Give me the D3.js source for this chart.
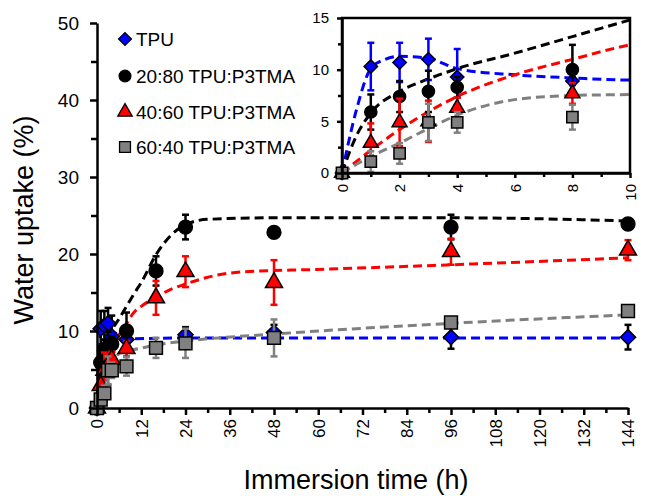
<!DOCTYPE html>
<html>
<head>
<meta charset="utf-8">
<script src="https://cdn.jsdelivr.net/npm/d3@7"></script>
<style>
  body { margin: 0; background: #fff; }
  svg { display: block; font-family: Arial, "Liberation Sans", sans-serif; }
</style>
</head>
<body>
<div id="chart"></div>
<script>
// measured points (hours, water uptake %)
var times = [0, 1, 2, 3, 4, 8, 16, 24, 48, 96, 144];

var tpu      = [0, 10.3, 10.7, 11.0, 9.3, 8.9, null, 9.5, 9.8, 9.2, 9.2];
var tpuErr   = [0, 2.3, 1.9, 2.0, 2.7, 0.4, null, 1.0, 1.0, 1.5, 1.6];
var p2080    = [0, 5.9, 7.4, 7.9, 8.3, 10.0, 17.8, 23.5, 22.8, 23.5, 23.9];
var p2080Err = [0, 1.7, 1.5, 2.0, 1.0, 2.4, 1.9, 1.6, 0, 1.6, 0.4];
var p4060    = [0, 2.9, 4.9, 5.0, 6.3, 7.7, 14.3, 17.7, 16.3, 20.3, 20.5];
var p4060Err = [0, 1.9, 2.3, 2.0, 1.0, 1.0, 2.2, 2.0, 2.9, 1.7, 1.3];
var p6040    = [0, 1.1, 1.9, 4.9, 4.9, 5.4, 7.8, 8.4, 9.1, 11.1, 12.6];
var p6040Err = [0, 1.0, 1.0, 1.8, 1.0, 1.2, 1.3, 1.9, 2.4, 0.4, 0.4];

// fitted curves as [hours, %]
var tpuFit = [[0,0],[0.5,6.1],[1,10.1],[1.5,11.0],[2,11.3],[3,11.1],[4,10.1],[6,9.5],[8,9.2],[10,9.0],[24,9.1],[48,9.1],[96,9.1],[144,9.1]];
var p2080Fit = [[0,0],[0.5,3.6],[1,5.8],[2,7.9],[3,9.1],[4,10.1],[6,11.6],[8,13.2],[10,14.8],[12,16.3],[16,19.9],[20,22.4],[24,23.8],[30,24.5],[48,24.7],[96,24.7],[144,24.3]];
var p4060Fit = [[0,0],[1,2.2],[2,4.2],[4,7.4],[6,9.5],[8,11.0],[10,12.4],[12,13.2],[16,14.4],[20,15.4],[24,16.1],[32,17.2],[40,17.7],[60,18.0],[96,18.6],[144,19.5]];
var p6040Fit = [[0,0],[1,1.6],[2,2.9],[3,4.3],[4,5.6],[6,7.1],[8,7.5],[10,7.6],[16,8.2],[24,8.7],[48,9.6],[96,11.0],[144,12.1]];

var seriesNames = ["TPU", "20:80 TPU:P3TMA", "40:60 TPU:P3TMA", "60:40 TPU:P3TMA"];
var mainXTicks = [0, 12, 24, 36, 48, 60, 72, 84, 96, 108, 120, 132, 144];
var mainYTicks = [0, 10, 20, 30, 40, 50];
var insetXTicks = [0, 2, 4, 6, 8, 10];
var insetYTicks = [0, 5, 10, 15];

var width = 646;
var height = 496;

var series = [
  { name: seriesNames[0], vals: tpu,   err: tpuErr,   fit: tpuFit,   color: "#0000ff", shape: "diamond" },
  { name: seriesNames[1], vals: p2080, err: p2080Err, fit: p2080Fit, color: "#000000", shape: "circle" },
  { name: seriesNames[2], vals: p4060, err: p4060Err, fit: p4060Fit, color: "#ff0000", shape: "triangle" },
  { name: seriesNames[3], vals: p6040, err: p6040Err, fit: p6040Fit, color: "#808080", shape: "square" }
];

var svg = d3.select("#chart")
            .append("svg")
            .attr("width", width)
            .attr("height", height);

svg.append("rect").attr("width", width).attr("height", height).attr("fill", "#fff");

function symbolPath(shape, k) {
  if (shape == "circle") return d3.symbol().type(d3.symbolCircle).size(150 * k * k)();
  if (shape == "triangle") return d3.symbol().type(d3.symbolTriangle).size(125 * k * k)();
  if (shape == "square") return d3.symbol().type(d3.symbolSquare).size(165 * k * k)();
  return d3.symbol().type(d3.symbolSquare).size(115 * k * k)();
}

function fillOf(s) { return s.shape == "circle" ? "#000" : s.color; }

function points(s, maxT) {
  var out = [];
  times.forEach(function(t, i) {
    if (s.vals[i] != null && t <= maxT) out.push({ t: t, v: s.vals[i], e: s.err[i] });
  });
  return out;
}

// draws fits, error bars and markers of all series into g
function drawPanel(g, x, y, maxT, k, lw, blueErrBlack) {
  var line = d3.line()
    .x(function(d) { return x(d[0]); })
    .y(function(d) { return y(d[1]); })
    .curve(d3.curveMonotoneX);

  series.forEach(function(s) {
    g.append("path")
      .attr("d", line(s.fit))
      .attr("fill", "none")
      .attr("stroke", s.color)
      .attr("stroke-width", lw)
      .attr("stroke-dasharray", "9,5");
  });

  series.forEach(function(s) {
    var pts = points(s, maxT);
    var ec = (blueErrBlack && s.shape == "diamond") ? "#000" : s.color;
    var eb = g.append("g").attr("stroke", ec).attr("stroke-width", 2.5);
    pts.filter(function(d) { return d.e > 0; }).forEach(function(d) {
      var cx = x(d.t);
      eb.append("line").attr("x1", cx).attr("x2", cx).attr("y1", y(d.v - d.e)).attr("y2", y(d.v + d.e));
      eb.append("line").attr("x1", cx - 3.5).attr("x2", cx + 3.5).attr("y1", y(d.v + d.e)).attr("y2", y(d.v + d.e));
      eb.append("line").attr("x1", cx - 3.5).attr("x2", cx + 3.5).attr("y1", y(d.v - d.e)).attr("y2", y(d.v - d.e));
    });
    g.selectAll(null)
      .data(pts)
      .enter()
      .append("path")
      .attr("d", symbolPath(s.shape, k))
      .attr("transform", function(d) {
        return "translate(" + x(d.t) + "," + y(d.v) + ")" + (s.shape == "diamond" ? " rotate(45)" : "");
      })
      .attr("fill", fillOf(s))
      .attr("stroke", "#000")
      .attr("stroke-width", 1.5);
  });
}

function styleAxis(a) {
  a.selectAll(".domain").attr("stroke-width", 2.5);
  a.selectAll(".tick line").attr("stroke-width", 2.5);
}

// ---- main chart
var x = d3.scaleLinear().domain([0, 144]).range([97, 628]);
var y = d3.scaleLinear().domain([0, 50]).range([408, 23]);

var main = svg.append("g");
drawPanel(main, x, y, 144, 1, 3, true);

var xMinor = d3.range(6, 144, 12);
var yMinor = d3.range(5, 50, 10);

var xa = svg.append("g")
  .attr("transform", "translate(0," + y(0) + ")")
  .call(d3.axisBottom(x).tickValues(mainXTicks).tickSize(7).tickSizeOuter(0));
xa.selectAll("text")
  .attr("x", -11).attr("y", 0).attr("dy", "0.35em")
  .attr("transform", "rotate(-90)")
  .style("text-anchor", "end")
  .style("font-size", "17px").attr("fill", "#000");
styleAxis(xa);
var xm = svg.append("g")
  .attr("transform", "translate(0," + y(0) + ")")
  .call(d3.axisBottom(x).tickValues(xMinor).tickSize(5).tickFormat(""));
xm.select(".domain").remove();
styleAxis(xm);

var ya = svg.append("g")
  .attr("transform", "translate(" + x(0) + ",0)")
  .call(d3.axisLeft(y).tickValues(mainYTicks).tickSize(7).tickPadding(11).tickSizeOuter(0));
ya.selectAll("text").style("font-size", "19px").attr("fill", "#000");
styleAxis(ya);
var ym = svg.append("g")
  .attr("transform", "translate(" + x(0) + ",0)")
  .call(d3.axisLeft(y).tickValues(yMinor).tickSize(6).tickFormat(""));
ym.select(".domain").remove();
styleAxis(ym);

svg.append("text")
  .attr("x", 356).attr("y", 489)
  .attr("text-anchor", "middle")
  .style("font-size", "27px")
  .text("Immersion time (h)");

svg.append("text")
  .attr("transform", "translate(33,220) rotate(-90)")
  .attr("text-anchor", "middle")
  .style("font-size", "27px")
  .text("Water uptake (%)");

// ---- legend
var legend = svg.append("g");
var legendY = [39, 76, 112, 147];
series.forEach(function(s, i) {
  legend.append("path")
    .attr("d", symbolPath(s.shape, 0.85))
    .attr("transform", "translate(125," + legendY[i] + ")" + (s.shape == "diamond" ? " rotate(45)" : ""))
    .attr("fill", fillOf(s))
    .attr("stroke", "#000")
    .attr("stroke-width", 1.3);
  legend.append("text")
    .attr("x", 136).attr("y", legendY[i])
    .attr("dy", "0.35em")
    .style("font-size", "19px")
    .text(s.name);
});

// ---- inset
var ix = d3.scaleLinear().domain([0, 10]).range([342, 630]);
var iy = d3.scaleLinear().domain([0, 15]).range([173, 18]);

svg.append("rect")
  .attr("x", ix(0)).attr("y", iy(15))
  .attr("width", ix(10) - ix(0)).attr("height", iy(0) - iy(15))
  .attr("fill", "#fff");

svg.append("clipPath").attr("id", "insetClip")
  .append("rect")
  .attr("x", ix(0) - 10).attr("y", iy(15))
  .attr("width", ix(10) - ix(0) + 10).attr("height", iy(0) - iy(15) + 10);

var inset = svg.append("g").attr("clip-path", "url(#insetClip)");
drawPanel(inset, ix, iy, 10, 0.88, 3, false);

svg.append("rect")
  .attr("x", ix(0)).attr("y", iy(15))
  .attr("width", ix(10) - ix(0)).attr("height", iy(0) - iy(15))
  .attr("fill", "none")
  .attr("stroke", "#000")
  .attr("stroke-width", 2.5);

var ixa = svg.append("g")
  .attr("transform", "translate(0," + iy(0) + ")")
  .call(d3.axisBottom(ix).tickValues(insetXTicks).tickSize(5).tickSizeOuter(0));
ixa.selectAll("text")
  .attr("x", -11).attr("y", 0).attr("dy", "0.35em")
  .attr("transform", "rotate(-90)")
  .style("text-anchor", "end")
  .style("font-size", "15px").attr("fill", "#000");
styleAxis(ixa);
var ixm = svg.append("g")
  .attr("transform", "translate(0," + iy(0) + ")")
  .call(d3.axisBottom(ix).tickValues([1, 3, 5, 7, 9]).tickSize(4).tickFormat(""));
ixm.select(".domain").remove();
styleAxis(ixm);

var iya = svg.append("g")
  .attr("transform", "translate(" + ix(0) + ",0)")
  .call(d3.axisLeft(iy).tickValues(insetYTicks).tickSize(5).tickPadding(8).tickSizeOuter(0));
iya.selectAll("text").style("font-size", "15px").attr("fill", "#000");
styleAxis(iya);
var iym = svg.append("g")
  .attr("transform", "translate(" + ix(0) + ",0)")
  .call(d3.axisLeft(iy).tickValues([2.5, 7.5, 12.5]).tickSize(4).tickFormat(""));
iym.select(".domain").remove();
styleAxis(iym);
</script>
</body>
</html>
